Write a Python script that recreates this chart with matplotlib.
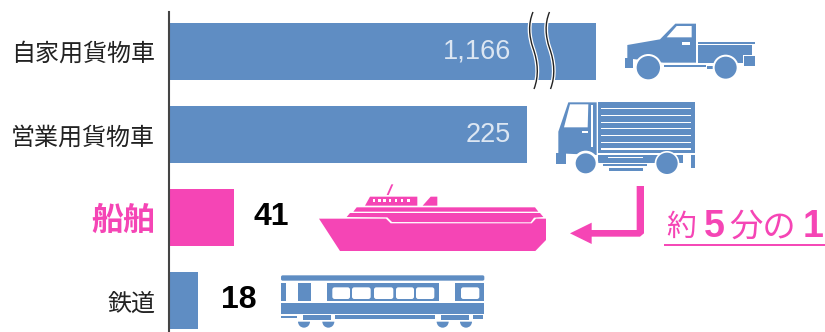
import matplotlib
matplotlib.use('Agg')
import matplotlib.pyplot as plt
import numpy as np
from matplotlib.patches import Polygon, Rectangle, Circle, Wedge, FancyBboxPatch, PathPatch
from matplotlib.path import Path
from matplotlib.transforms import Affine2D

categories = ['自家用貨物車', '営業用貨物車', '船舶', '鉄道']
values = [1166, 225, 41, 18]
value_labels = ['1,166', '225', '41', '18']

BLUE = '#5F8DC3'
PINK = '#F545B5'
W = 825
H = 332

plt.rcParams['font.family'] = ['Noto Sans CJK JP', 'DejaVu Sans']

# the axis is compressed above 250 so the long bar fits
BREAK = 250
SLOPE = 0.0201
PX_PER_UNIT = 1.591

def forward(x):
    x = np.asarray(x, dtype=float)
    return np.where(x <= BREAK, x, BREAK + (x - BREAK) * SLOPE)

def inverse(x):
    x = np.asarray(x, dtype=float)
    return np.where(x <= BREAK, x, BREAK + (x - BREAK) / SLOPE)

fig = plt.figure(figsize=(W / 100, H / 100), dpi=100)

ax = fig.add_axes([169 / W, 0, (W - 169) / W, (H - 12) / H])
ax.set_xscale('function', functions=(forward, inverse))
ax.set_xlim(0, BREAK + ((W - 169) / PX_PER_UNIT - BREAK) / SLOPE)
ax.set_ylim(3.377, -0.469)
bar_colors = [BLUE, BLUE, PINK, BLUE]
ax.barh(range(4), values, height=0.685, color=bar_colors)
for s in ['top', 'right', 'bottom']:
    ax.spines[s].set_visible(False)
ax.spines['left'].set_color('#444444')
ax.spines['left'].set_linewidth(1.5)
ax.set_xticks([])
ax.set_xticks([], minor=True)
ax.set_yticks(range(4))
ax.set_yticklabels(categories, fontsize=17.3, color='#222222')
ax.tick_params(axis='y', length=0, pad=10)
ship_label = ax.get_yticklabels()[2]
ship_label.set_color(PINK)
ship_label.set_fontsize(23)
ship_label.set_fontweight('bold')

# pixel layer for value labels and vehicle icons
top = fig.add_axes([0, 0, 1, 1])
top.set_xlim(0, W)
top.set_ylim(H, 0)
top.axis('off')
top.patch.set_alpha(0)

top.text(511, 52, value_labels[0], color='#DCE6F2', fontsize=19.5, ha='right', va='center', family='Liberation Sans')
top.text(511, 135, value_labels[1], color='#DCE6F2', fontsize=19.5, ha='right', va='center', family='Liberation Sans')
top.text(253, 217, value_labels[2], color='black', fontsize=23, ha='left', va='center', family='Liberation Sans', fontweight='bold')
top.text(221, 300, value_labels[3], color='black', fontsize=23, ha='left', va='center', family='Liberation Sans', fontweight='bold')

# wavy break marks on the long bar
for dx in [0, 16.5]:
    p = Path([(533 + dx, 12), (528 + dx, 24), (529 + dx, 36), (533 + dx, 48), (538 + dx, 62), (539 + dx, 76), (534 + dx, 89)],
             [Path.MOVETO, Path.CURVE4, Path.CURVE4, Path.CURVE4, Path.CURVE4, Path.CURVE4, Path.CURVE4])
    top.add_patch(PathPatch(p, fc='none', ec='white', lw=2.8))
    top.add_patch(PathPatch(p, fc='none', ec='#222222', lw=1.0))

def icon_tf(ox, oy):
    return Affine2D().scale(1 / 3).translate(ox, oy) + top.transData

def poly(pts, color, tf):
    top.add_patch(Polygon(pts, closed=True, fc=color, ec='none', transform=tf))

def rect(x0, y0, x1, y1, color, tf):
    top.add_patch(Rectangle((x0, y0), x1 - x0, y1 - y0, fc=color, ec='none', transform=tf))

def circ(x, y, r, color, tf):
    top.add_patch(Circle((x, y), r, fc=color, ec='none', transform=tf))

# pickup
tf = icon_tf(520, 0)
poly([(322, 135), (420, 118), (466, 71), (528, 71), (528, 188), (430, 188), (322, 175)], BLUE, tf)
poly([(440, 112), (470, 78), (515, 78), (515, 112)], 'white', tf)
rect(487, 125, 509, 136, 'white', tf)
rect(535, 125, 705, 131, BLUE, tf)
rect(535, 136, 695, 166, BLUE, tf)
rect(535, 136, 670, 190, BLUE, tf)
rect(432, 196, 557, 202, BLUE, tf)
rect(562, 197, 578, 207, BLUE, tf)
circ(385, 203, 41, 'white', tf)
circ(617, 203, 39, 'white', tf)
circ(385, 203, 35, BLUE, tf)
circ(617, 203, 33, BLUE, tf)
rect(316, 173, 340, 203, BLUE, tf)
rect(672, 168, 706, 197, BLUE, tf)

# truck
poly([(115, 395), (145, 307), (230, 307), (230, 465), (115, 460)], BLUE, tf)
poly([(132, 382), (150, 313), (205, 313), (203, 382)], 'white', tf)
rect(212, 315, 218, 440, 'white', tf)
rect(185, 393, 203, 399, 'white', tf)
rect(235, 305, 525, 460, BLUE, tf)
for y in [325, 347, 368, 385, 407, 428, 447]:
    rect(243, y - 1.6, 512, y + 1.6, 'white', tf)
rect(235, 464, 490, 488, BLUE, tf)
rect(265, 472, 370, 475, 'white', tf)
rect(250, 492, 382, 497, BLUE, tf)
rect(268, 503, 368, 514, BLUE, tf)
rect(108, 458, 138, 493, BLUE, tf)
rect(513, 465, 525, 503, BLUE, tf)
circ(197, 490, 38, 'white', tf)
circ(441, 490, 37, 'white', tf)
circ(197, 490, 30, BLUE, tf)
circ(441, 490, 32, BLUE, tf)

# ship
tf = icon_tf(300, 170)
poly([(57, 146), (258, 146), (272, 160), (695, 160), (708, 146), (738, 146), (738, 210), (706, 243), (120, 243)], PINK, tf)
poly([(140, 141), (150, 129), (720, 129), (730, 141), (702, 143), (692, 157), (276, 156), (262, 142)], PINK, tf)
poly([(160, 125), (170, 112), (705, 112), (715, 125)], PINK, tf)
poly([(195, 107), (210, 80), (352, 80), (352, 107)], PINK, tf)
for x in [218, 235, 250, 266, 284, 302, 322]:
    rect(x, 87, x + 7, 96, 'white', tf)
poly([(368, 107), (392, 80), (412, 80), (412, 107)], PINK, tf)
poly([(260, 75), (274, 43), (280, 43), (266, 75)], PINK, tf)

# arrow from truck down to ship
poly([(1010, 48), (1032, 48), (1032, 190), (1020, 200), (875, 200), (875, 222), (810, 190),
      (875, 158), (875, 180), (1010, 180)], PINK, tf)

# train
top.add_patch(FancyBboxPatch((-57, 316), 610, 16, boxstyle='round,pad=0,rounding_size=5', fc=BLUE, ec='none', transform=tf))
rect(-57, 398, 553, 431, BLUE, tf)
rect(-57, 338, -42, 392, BLUE, tf)
rect(-7, 338, 33, 392, BLUE, tf)
rect(80, 338, 418, 392, BLUE, tf)
rect(465, 338, 553, 392, BLUE, tf)
for x0, x1 in [(97, 150), (156, 212), (222, 280), (288, 342), (348, 403), (483, 538)]:
    top.add_patch(FancyBboxPatch((x0, 352), x1 - x0, 35, boxstyle='round,pad=0,rounding_size=7', fc='white', ec='none', transform=tf))
rect(-57, 437, -8, 443, BLUE, tf)
rect(10, 436, 92, 451, BLUE, tf)
rect(105, 436, 405, 446, BLUE, tf)
rect(422, 436, 506, 451, BLUE, tf)
rect(520, 436, 550, 446, BLUE, tf)
for x in [12, 85, 428, 498]:
    top.add_patch(Wedge((x, 455), 18, 0, 180, fc=BLUE, ec='none', transform=tf))

# ratio note
top.text(666, 227, '約', color=PINK, fontsize=21.5, va='center', ha='left')
top.text(704, 227, '5', color=PINK, fontsize=27, va='center', ha='left', family='Liberation Sans', fontweight='bold')
top.text(729, 227, '分の', color=PINK, fontsize=24, va='center', ha='left')
top.text(803, 227, '1', color=PINK, fontsize=27, va='center', ha='left', family='Liberation Sans', fontweight='bold')
top.plot([664, 825], [245, 245], color=PINK, lw=1.4, solid_capstyle='butt')

fig.savefig('out.png', dpi=100)
